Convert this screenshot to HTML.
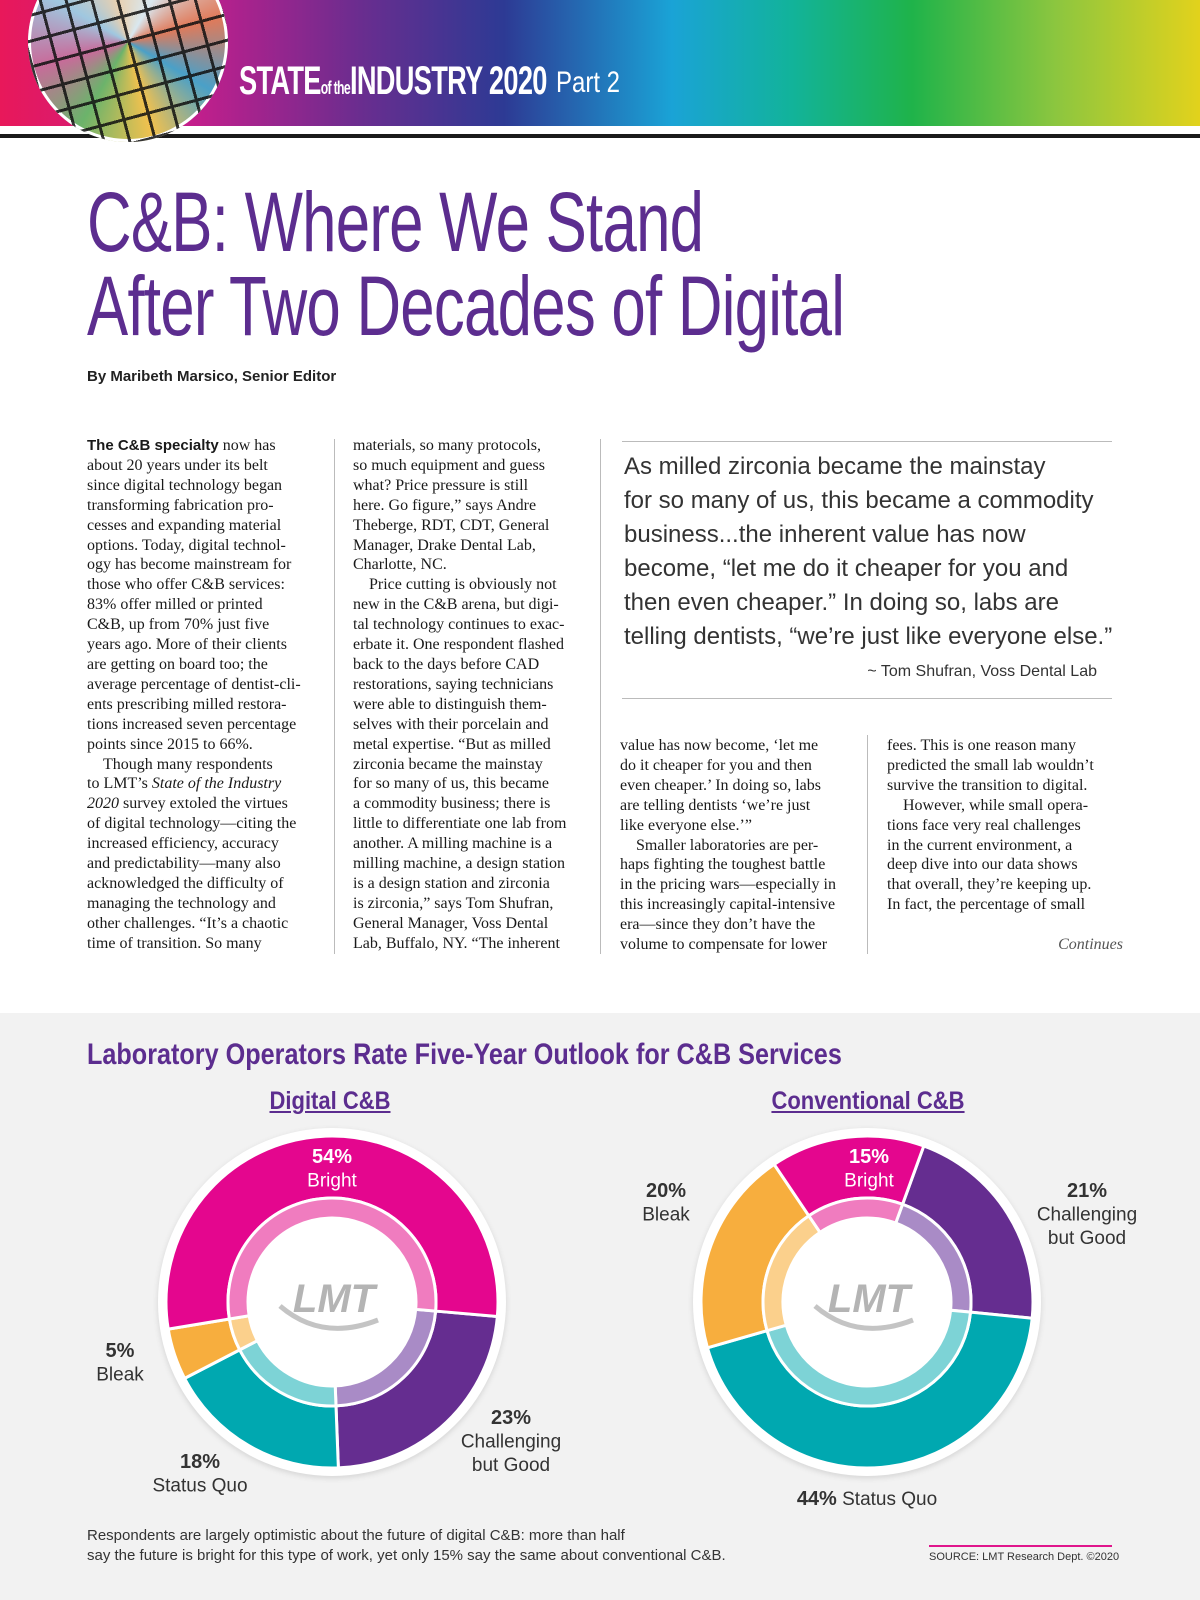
<!DOCTYPE html>
<html><head><meta charset="utf-8">
<style>
*{margin:0;padding:0;box-sizing:border-box}
body{width:1200px;height:1600px;position:relative;background:#fff;overflow:hidden;font-family:"Liberation Sans",sans-serif}
.abs{position:absolute;white-space:nowrap}
.col{position:absolute;font-family:"Liberation Serif",serif;font-size:16px;line-height:19.9px;color:#1a1a1a}
.col div{white-space:nowrap}
.q{position:absolute;left:624px;font-size:24px;color:#333;white-space:nowrap}
.purple{color:#5c2d8f}
</style></head>
<body>
<div class="abs" style="left:0;top:0;width:1200px;height:126px;background:linear-gradient(90deg,#e8185a 0%,#c41e8c 16%,#6a2d8f 30%,#2d3a94 42%,#1aa3d6 56%,#12b39a 66%,#1fb34a 76%,#8cc63f 88%,#e2d21c 100%)"></div>
<div class="abs" style="left:0;top:134px;width:1200px;height:4px;background:#1a1a1a"></div>
<div class="abs" style="left:28px;top:-58px;width:200px;height:200px;border-radius:50%;background:conic-gradient(from 30deg,#d9e8f0,#e07a5a,#4aa0c8,#f2c14e,#6bb36b,#c86b9a,#9fc7e0,#e8d0b0,#d9e8f0);box-shadow:0 0 0 3px #fff inset"><div style="position:absolute;inset:0;border-radius:50%;background:repeating-linear-gradient(75deg,transparent 0 22px,#111 22px 25px),repeating-linear-gradient(-15deg,transparent 0 22px,#111 22px 25px);opacity:.85"></div></div>
<div class="abs" style="left:239px;top:59px;color:#fff;font-weight:bold;font-size:40px;transform:scaleX(.68);transform-origin:left;letter-spacing:-1px">STATE<span style="font-size:18px">of the</span>INDUSTRY 2020</div>
<div class="abs" style="left:556px;top:66px;color:#fff;font-size:30px;transform:scaleX(.8);transform-origin:left">Part 2</div>

<div class="abs purple" style="left:87px;top:180px;font-size:84px;line-height:84px;transform:scaleX(.735);transform-origin:left;letter-spacing:-1px">C&amp;B: Where We Stand<br>After Two Decades of Digital</div>
<div class="abs" style="left:87px;top:368px;font-size:15px;font-weight:bold;color:#222">By Maribeth Marsico, Senior Editor</div>

<div class="col" style="left:87px;top:436px">
<div><b style="font-family:'Liberation Sans',sans-serif;font-size:15px">The C&amp;B specialty</b> now has</div><div>about 20 years under its belt</div><div>since digital technology began</div><div>transforming fabrication pro-</div><div>cesses and expanding material</div><div>options. Today, digital technol-</div><div>ogy has become mainstream for</div><div>those who offer C&amp;B services:</div><div>83% offer milled or printed</div><div>C&amp;B, up from 70% just five</div><div>years ago. More of their clients</div><div>are getting on board too; the</div><div>average percentage of dentist-cli-</div><div>ents prescribing milled restora-</div><div>tions increased seven percentage</div><div>points since 2015 to 66%.</div><div>&nbsp;&nbsp;&nbsp;&nbsp;Though many respondents</div><div>to LMT’s <i>State of the Industry</i></div><div><i>2020</i> survey extoled the virtues</div><div>of digital technology—citing the</div><div>increased efficiency, accuracy</div><div>and predictability—many also</div><div>acknowledged the difficulty of</div><div>managing the technology and</div><div>other challenges. “It’s a chaotic</div><div>time of transition. So many</div>
</div>
<div class="abs" style="left:334px;top:439px;width:1px;height:515px;background:#bbb"></div>
<div class="col" style="left:353px;top:436px">
<div>materials, so many protocols,</div><div>so much equipment and guess</div><div>what? Price pressure is still</div><div>here. Go figure,” says Andre</div><div>Theberge, RDT, CDT, General</div><div>Manager, Drake Dental Lab,</div><div>Charlotte, NC.</div><div>&nbsp;&nbsp;&nbsp;&nbsp;Price cutting is obviously not</div><div>new in the C&amp;B arena, but digi-</div><div>tal technology continues to exac-</div><div>erbate it. One respondent flashed</div><div>back to the days before CAD</div><div>restorations, saying technicians</div><div>were able to distinguish them-</div><div>selves with their porcelain and</div><div>metal expertise. “But as milled</div><div>zirconia became the mainstay</div><div>for so many of us, this became</div><div>a commodity business; there is</div><div>little to differentiate one lab from</div><div>another. A milling machine is a</div><div>milling machine, a design station</div><div>is a design station and zirconia</div><div>is zirconia,” says Tom Shufran,</div><div>General Manager, Voss Dental</div><div>Lab, Buffalo, NY. “The inherent</div>
</div>
<div class="abs" style="left:600px;top:439px;width:1px;height:515px;background:#bbb"></div>

<div class="abs" style="left:622px;top:441px;width:490px;height:1px;background:#bbb"></div>
<div>
<div class="q" style="top:453px">As milled zirconia became the mainstay</div>
<div class="q" style="top:487px">for so many of us, this became a commodity</div>
<div class="q" style="top:521px">business...the inherent value has now</div>
<div class="q" style="top:555px">become, “let me do it cheaper for you and</div>
<div class="q" style="top:589px">then even cheaper.” In doing so, labs are</div>
<div class="q" style="top:623px">telling dentists, “we’re just like everyone else.”</div>
</div>
<div class="abs" style="right:103px;top:663px;font-size:16px;color:#333">~ Tom Shufran, Voss Dental Lab</div>
<div class="abs" style="left:622px;top:698px;width:490px;height:1px;background:#bbb"></div>

<div class="col" style="left:620px;top:736px">
<div>value has now become, ‘let me</div><div>do it cheaper for you and then</div><div>even cheaper.’ In doing so, labs</div><div>are telling dentists ‘we’re just</div><div>like everyone else.’”</div><div>&nbsp;&nbsp;&nbsp;&nbsp;Smaller laboratories are per-</div><div>haps fighting the toughest battle</div><div>in the pricing wars—especially in</div><div>this increasingly capital-intensive</div><div>era—since they don’t have the</div><div>volume to compensate for lower</div>
</div>
<div class="abs" style="left:867px;top:735px;width:1px;height:219px;background:#bbb"></div>
<div class="col" style="left:887px;top:736px">
<div>fees. This is one reason many</div><div>predicted the small lab wouldn’t</div><div>survive the transition to digital.</div><div>&nbsp;&nbsp;&nbsp;&nbsp;However, while small opera-</div><div>tions face very real challenges</div><div>in the current environment, a</div><div>deep dive into our data shows</div><div>that overall, they’re keeping up.</div><div>In fact, the percentage of small</div>
</div>
<div class="abs" style="right:77px;top:936px;font-family:'Liberation Serif',serif;font-style:italic;font-size:16px;color:#555">Continues</div>

<div class="abs" style="left:0;top:1013px;width:1200px;height:587px;background:#f2f2f2"></div>
<div class="abs purple" style="left:87px;top:1038px;font-size:30px;font-weight:bold;transform:scaleX(.84);transform-origin:left">Laboratory Operators Rate Five-Year Outlook for C&amp;B Services</div>
<div class="abs purple" style="left:330px;top:1087px;transform:translateX(-50%) scaleX(.88);font-size:25px;font-weight:bold;text-decoration:underline">Digital C&amp;B</div>
<div class="abs purple" style="left:868px;top:1087px;transform:translateX(-50%) scaleX(.88);font-size:25px;font-weight:bold;text-decoration:underline">Conventional C&amp;B</div>

<svg id="charts" class="abs" style="left:0;top:0" width="1200" height="1600"></svg>

<div class="abs" style="left:87px;top:1526px;font-size:15px;line-height:20px;color:#333">Respondents are largely optimistic about the future of digital C&amp;B: more than half<br>say the future is bright for this type of work, yet only 15% say the same about conventional C&amp;B.</div>
<div class="abs" style="left:929px;top:1545px;width:183px;height:2px;background:#e0158c"></div>
<div class="abs" style="left:929px;top:1551px;font-size:11px;color:#333">SOURCE: LMT Research Dept. ©2020</div>

<script>
const categories = ["Challenging but Good","Status Quo","Bleak","Bright"];
const digitalValues = [23,18,5,54];
const conventionalValues = [21,44,20,15];
const digitalStartDeg = 95;
const conventionalStartDeg = 20;
const colors = {"Bright":"#e4068e","Challenging but Good":"#652d90","Status Quo":"#00a8b0","Bleak":"#f7ae3e"};
const lightColors = {"Bright":"#f07cbf","Challenging but Good":"#a98bc6","Status Quo":"#7dd3d6","Bleak":"#fbd08c"};
const NS="http://www.w3.org/2000/svg";
const svg=document.getElementById('charts');
function mk(t,a){const e=document.createElementNS(NS,t);for(const k in a)e.setAttribute(k,a[k]);svg.appendChild(e);return e;}
function pt(cx,cy,r,deg){const a=(deg-90)*Math.PI/180;return [cx+r*Math.cos(a),cy+r*Math.sin(a)];}
function arc(cx,cy,r0,r1,d0,d1){const l=(d1-d0)>180?1:0;const a=pt(cx,cy,r1,d0),b=pt(cx,cy,r1,d1),c=pt(cx,cy,r0,d1),d=pt(cx,cy,r0,d0);
return `M${a[0]},${a[1]}A${r1},${r1} 0 ${l} 1 ${b[0]},${b[1]}L${c[0]},${c[1]}A${r0},${r0} 0 ${l} 0 ${d[0]},${d[1]}Z`;}
function donut(cx,cy,values,start,name){
  const total=values.reduce((s,v)=>s+v,0);
  let c=mk('circle',{cx:cx,cy:cy,r:174,fill:'#fff'});
  
  
  c.style.filter='drop-shadow(0 2px 3px rgba(0,0,0,.12))';
  let d=start;
  values.forEach((v,i)=>{
    const sweep=v/total*360;const cat=categories[i];
    const p=mk('path',{d:arc(cx,cy,104,166,d,d+sweep),fill:colors[cat],stroke:'#fff','stroke-width':3});
    
    
    const q=mk('path',{d:arc(cx,cy,84,104,d,d+sweep),fill:lightColors[cat],stroke:'#fff','stroke-width':3});
    
    
    d+=sweep;
  });
  const w=mk('circle',{cx:cx,cy:cy,r:84,fill:'#fff'});
  
  
  const s=mk('path',{d:`M${cx-52},${cy+4} Q${cx-10},${cy+40} ${cx+46},${cy+18}`,fill:'none',stroke:'#c4c4c4','stroke-width':5});
  
  
  const t=mk('text',{x:cx+2,y:cy+10,'text-anchor':'middle','font-size':40,'font-weight':'bold','font-style':'italic',fill:'#b4b4b4','font-family':'Liberation Sans, sans-serif'});
  t.textContent='LMT';
  
  
}
donut(332,1302,digitalValues,digitalStartDeg,'digital');
donut(867,1302,conventionalValues,conventionalStartDeg,'conventional');
function label(x,y,lines,color,name){
  const t=mk('text',{x:x,y:y,'text-anchor':'middle','font-family':'Liberation Sans, sans-serif',fill:color});
  lines.forEach((l,i)=>{const s=document.createElementNS(NS,'tspan');s.setAttribute('x',x);s.setAttribute('dy',i?23.5:0);
    s.setAttribute('font-size',i?19:20);if(!i)s.setAttribute('font-weight','bold');s.textContent=l;t.appendChild(s);});
  
  
}
const pct=v=>v+'%';
label(332,1163,[pct(digitalValues[3]),'Bright'],'#fff','digital-label-bright');
label(120,1357,[pct(digitalValues[2]),'Bleak'],'#333','digital-label-bleak');
label(200,1468,[pct(digitalValues[1]),'Status Quo'],'#333','digital-label-status-quo');
label(511,1424,[pct(digitalValues[0]),'Challenging','but Good'],'#333','digital-label-challenging');
label(869,1163,[pct(conventionalValues[3]),'Bright'],'#fff','conventional-label-bright');
label(666,1197,[pct(conventionalValues[2]),'Bleak'],'#333','conventional-label-bleak');
label(1087,1197,[pct(conventionalValues[0]),'Challenging','but Good'],'#333','conventional-label-challenging');
const sq=mk('text',{x:867,y:1505,'text-anchor':'middle','font-family':'Liberation Sans, sans-serif','font-size':19,fill:'#333'});
sq.innerHTML='<tspan font-weight="bold" font-size="20">'+pct(conventionalValues[1])+'</tspan> Status Quo';


</script>
</body></html>
